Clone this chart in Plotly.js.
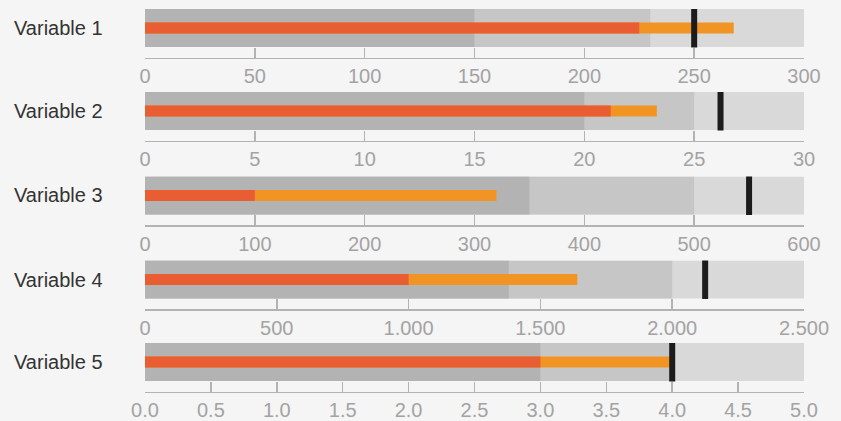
<!DOCTYPE html>
<html>
<head>
<meta charset="utf-8">
<script src="https://cdn.plot.ly/plotly-3.0.1.min.js"></script>
<style>
html,body{margin:0;padding:0;background:#f5f5f5;}
#chart{width:841px;height:421px;}
</style>
</head>
<body>
<div id="chart"></div>
<script>
// ---- data ----
const variables = ['Variable 1', 'Variable 2', 'Variable 3', 'Variable 4', 'Variable 5'];
const rangeMax = [300, 30, 600, 2500, 5];
const rangeLow = [150, 20, 350, 1380, 3];
const rangeMid = [230, 25, 500, 2000, 4];
const measureActual = [225, 21.2, 100, 1000, 3];
const measureProjected = [268, 23.3, 320, 1640, 4];
const markerTarget = [250, 26.2, 550, 2125, 4];
const tickStep = [50, 5, 100, 500, 0.5];
const tickFormats = ['', '', '', ',', '.1f'];

// ---- layout geometry (pixels) ----
const W = 841, H = 421;
const L = 145, R = 804;
const rowTops = [9, 92, 176.5, 260.5, 343];
const bandH = 38, gapH = 10.5;

const colors = {
  light: '#d9d9d9', mid: '#c6c6c6', dark: '#b3b3b3',
  projected: '#f29423', actual: '#e85d31', marker: '#1c1c1c',
  axis: '#b3b3b3', tick: '#a3a3a3', label: '#333333', bg: '#f5f5f5'
};

const traces = [];
const layout = {
  width: W, height: H,
  margin: {l: L, r: W - R, t: 0, b: 0, pad: 0},
  paper_bgcolor: colors.bg, plot_bgcolor: colors.bg,
  barmode: 'overlay',
  showlegend: false,
  separators: '..',
  font: {family: '"Liberation Sans", Arial, Helvetica, sans-serif'},
  annotations: []
};

variables.forEach((name, i) => {
  const n = i + 1;
  const xa = n === 1 ? 'x' : 'x' + n;
  const ya = n === 1 ? 'y' : 'y' + n;
  const bandBase = {type: 'bar', orientation: 'h', xaxis: xa, yaxis: ya,
    y: [0.5], base: 0, width: 1, hoverinfo: 'skip', marker: {line: {width: 0}}};
  traces.push(Object.assign({}, bandBase, {x: [rangeMax[i]], marker: {color: colors.light, line: {width: 0}}}));
  traces.push(Object.assign({}, bandBase, {x: [rangeMid[i]], marker: {color: colors.mid, line: {width: 0}}}));
  traces.push(Object.assign({}, bandBase, {x: [rangeLow[i]], marker: {color: colors.dark, line: {width: 0}}}));
  traces.push(Object.assign({}, bandBase, {x: [measureProjected[i]], width: 0.29, marker: {color: colors.projected, line: {width: 0}}}));
  traces.push(Object.assign({}, bandBase, {x: [measureActual[i]], width: 0.29, marker: {color: colors.actual, line: {width: 0}}}));
  traces.push({type: 'scatter', mode: 'markers', xaxis: xa, yaxis: ya,
    x: [markerTarget[i]], y: [0.5], hoverinfo: 'skip',
    marker: {symbol: 'line-ns', size: 28, line: {width: 6, color: colors.marker}}});

  const top = rowTops[i];
  const axisY = top + bandH + gapH;
  const dom = [1 - axisY / H, 1 - top / H];
  const xKey = n === 1 ? 'xaxis' : 'xaxis' + n;
  const yKey = n === 1 ? 'yaxis' : 'yaxis' + n;
  layout[xKey] = {
    anchor: ya, domain: [0, 1], range: [0, rangeMax[i]], dtick: tickStep[i], tick0: 0,
    tickformat: tickFormats[i], showgrid: false, zeroline: false,
    showline: true, linecolor: colors.axis, linewidth: 1.5,
    ticks: 'inside', ticklen: 10, tickwidth: 1.5, tickcolor: colors.axis,
    tickfont: {size: 20, color: colors.tick}, automargin: false, fixedrange: true
  };
  layout[yKey] = {
    anchor: xa, domain: dom, range: [-gapH / bandH, 1], visible: false,
    showgrid: false, zeroline: false, fixedrange: true
  };
  layout.annotations.push({
    text: name, xref: 'paper', yref: ya, x: (12 - L) / (R - L), y: 0.5,
    xanchor: 'left', yanchor: 'middle', showarrow: false,
    font: {size: 20, color: colors.label}
  });
});

Plotly.newPlot('chart', traces, layout, {displayModeBar: false, staticPlot: true});
</script>
</body>
</html>
